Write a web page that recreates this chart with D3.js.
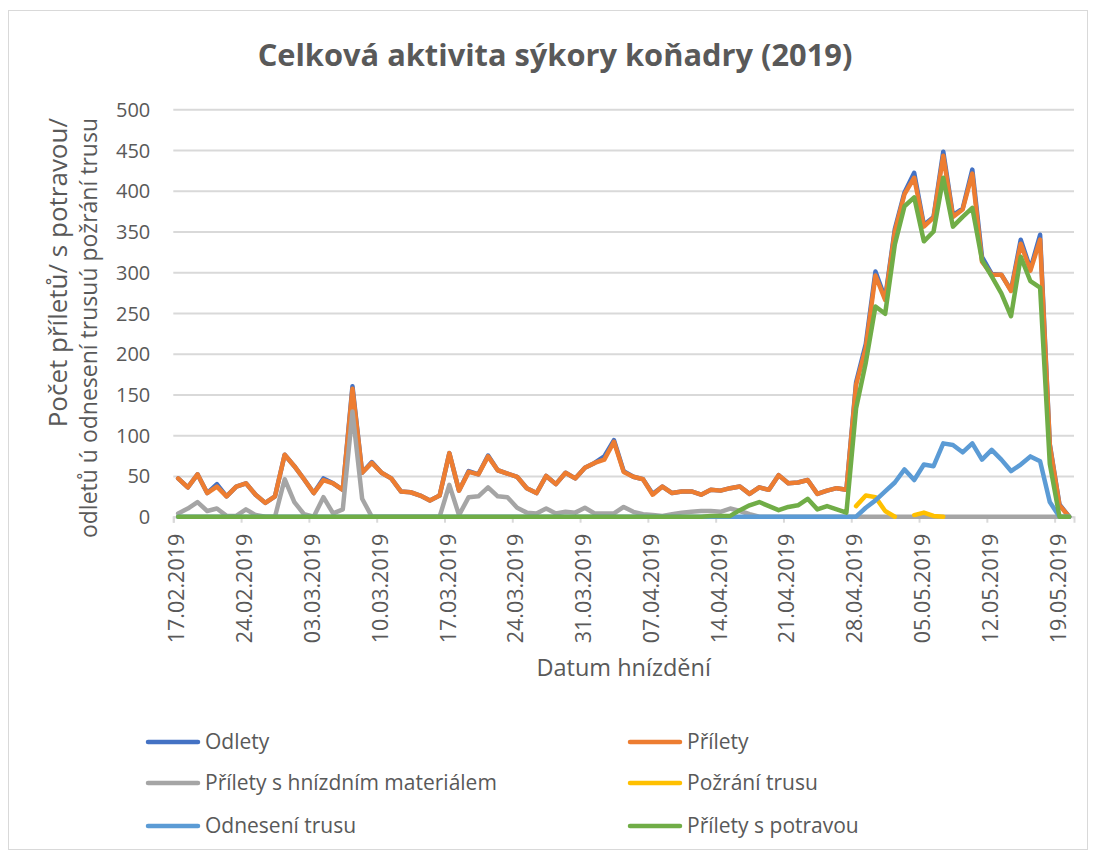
<!DOCTYPE html>
<html>
<head>
<meta charset="utf-8">
<script src="https://cdn.jsdelivr.net/npm/d3@7"></script>
<style>
  html, body { margin: 0; padding: 0; background: #fff; }
  svg { display: block; }
  text { font-family: "Open Sans", "Noto Sans", sans-serif; fill: #595959; }
</style>
</head>
<body>
<svg id="chart" width="1093" height="857"></svg>
<script>
// ---- Data ----
const startDate = "2019-02-17";
const endDate = "2019-05-20"; // last category (inclusive)
const tickLabels = ["17.02.2019","24.02.2019","03.03.2019","10.03.2019","17.03.2019","24.03.2019",
  "31.03.2019","07.04.2019","14.04.2019","21.04.2019","28.04.2019","05.05.2019","12.05.2019","19.05.2019"];
const yTicks = [0, 50, 100, 150, 200, 250, 300, 350, 400, 450, 500];

const odlety = [47,36,52,29,40,25,37,41,27,17,25,76,62,46,29,47,41,33,160,54,
  67,54,47,31,30,26,20,26,78,32,56,52,75,57,53,49,35,29,50,40,
  54,47,60,66,74,94,56,49,46,28,37,29,31,31,27,33,32,35,37,28,
  36,33,51,41,42,45,28,32,35,33,165,212,301,268,353,398,422,358,368,448,
  370,378,426,319,298,297,278,340,304,346,89,15,0];
const prilety = [47,36,52,29,37,25,37,41,27,17,25,76,62,46,29,45,41,33,157,54,
  66,54,47,31,30,26,20,26,78,32,55,52,74,57,53,49,35,29,50,40,
  54,47,60,66,70,92,55,49,46,27,37,29,31,31,27,33,32,35,37,28,
  36,33,51,41,42,45,28,32,35,33,162,207,296,266,350,396,416,356,367,443,
  368,377,421,313,297,297,277,335,302,340,88,14,0];
const material = [4,10,18,7,10,1,1,9,2,0,0,46,18,3,0,24,4,9,129,22,
  0,0,0,0,0,0,0,0,39,2,24,25,36,25,24,11,5,4,10,4,
  6,5,11,4,4,4,12,6,3,2,1,3,5,6,7,7,6,10,7,3,
  0,0,0,0,0,0,0,0,0,0,0,0,0,0,0,0,0,0,0,0,
  0,0,0,0,0,0,0,0,0,0,0,0,0];
const pozrani = [null,null,null,null,null,null,null,null,null,null,null,null,null,null,null,null,null,null,null,null,
  null,null,null,null,null,null,null,null,null,null,null,null,null,null,null,null,null,null,null,null,
  null,null,null,null,null,null,null,null,null,null,null,null,null,null,null,null,null,null,null,null,
  null,null,null,null,null,null,null,null,null,null,13,26,24,7,0,null,2,5,1,0,
  null,null,null,null,null,null,null,null,null,null,null,null,null];
const odneseni = [0,0,0,0,0,0,0,0,0,0,0,0,0,0,0,0,0,0,0,0,
  0,0,0,0,0,0,0,0,0,0,0,0,0,0,0,0,0,0,0,0,
  0,0,0,0,0,0,0,0,0,0,0,0,0,0,0,0,0,0,0,0,
  0,0,0,0,0,0,0,0,0,0,0,11,20,31,42,58,45,64,62,90,
  88,79,90,70,82,70,56,64,74,68,18,0,0];
const potrava = [0,0,0,0,0,0,0,0,0,0,0,0,0,0,0,0,0,0,0,0,
  0,0,0,0,0,0,0,0,0,0,0,0,0,0,0,0,0,0,0,0,
  0,0,0,0,0,0,0,0,0,0,0,0,0,0,0,1,1,1,8,14,
  18,13,8,12,14,22,9,13,9,5,133,189,258,249,334,381,392,338,350,416,
  356,368,379,315,295,274,246,319,289,281,65,0,0];

const seriesNames = ["Odlety","Přílety","Přílety s hnízdním materiálem","Požrání trusu","Odnesení trusu","Přílety s potravou"];
const seriesColors = ["#4472C4","#ED7D31","#A5A5A5","#FFC000","#5B9BD5","#70AD47"];
const seriesValues = [odlety, prilety, material, pozrani, odneseni, potrava];

// ---- Layout ----
const svg = d3.select("#chart");
const plot = { left: 173.3, right: 1074, top: 109.3, bottom: 516.7 };

const parseISO = d3.utcParse("%Y-%m-%d");
const parseTick = d3.utcParse("%d.%m.%Y");
const days = d3.utcDay.range(parseISO(startDate), d3.utcDay.offset(parseISO(endDate), 1));

const x = d3.scaleUtc()
  .domain([days[0], d3.utcDay.offset(days[days.length - 1], 1)])
  .range([plot.left, plot.right]);
const y = d3.scaleLinear().domain([0, 500]).range([plot.bottom, plot.top]);
const xc = d => x(d3.utcHour.offset(d, 12)); // point at slot centre

// chart border
svg.append("rect").attr("x", 8.5).attr("y", 10.5).attr("width", 1079).attr("height", 839)
  .attr("fill", "#fff").attr("stroke", "#d9d9d9").attr("stroke-width", 1);

// title
svg.append("text").attr("x", 555).attr("y", 66).attr("text-anchor", "middle")
  .style("font-size", "30.8px").style("font-weight", "bold")
  .text("Celková aktivita sýkory koňadry (2019)");

// gridlines
const yAxis = d3.axisLeft(y).tickValues(yTicks).tickSize(-(plot.right - plot.left)).tickPadding(23);
const gy = svg.append("g").attr("transform", `translate(${plot.left},0)`).call(yAxis);
gy.select(".domain").remove();
gy.selectAll(".tick line").attr("stroke", "#d9d9d9").attr("stroke-width", 2);
gy.selectAll(".tick text").style("font-size", "20px").attr("fill", "#595959").attr("dy", "0.35em");

// x axis ticks
const tickDates = tickLabels.map(parseTick);
const xAxis = d3.axisBottom(x).tickValues(tickDates).tickSize(6).tickFormat((d, i) => tickLabels[i]);
const gx = svg.append("g").attr("transform", `translate(0,${plot.bottom})`).call(xAxis);
gx.select(".domain").attr("stroke", "#d9d9d9").attr("stroke-width", 2);
gx.selectAll(".tick line").attr("stroke", "#d9d9d9").attr("stroke-width", 2);
gx.selectAll(".tick text")
  .style("font-size", "21.5px").attr("fill", "#595959")
  .attr("text-anchor", "end")
  .attr("transform", "rotate(-90)")
  .attr("x", -17).attr("y", 3).attr("dy", "0.35em");

// axis titles
svg.append("text").attr("x", (plot.left + plot.right) / 2).attr("y", 676)
  .attr("text-anchor", "middle").style("font-size", "23.5px").text("Datum hnízdění");
const yt = svg.append("text").attr("transform", "translate(0,118) rotate(-90)")
  .attr("text-anchor", "end");
yt.append("tspan").attr("x", 0).attr("y", 67).style("font-size", "26px").text("Počet příletů/ s potravou/");
yt.append("tspan").attr("x", 0).attr("y", 97).style("font-size", "23px").text("odletů ú odnesení trusuú požrání trusu");

// series lines
const line = d3.line()
  .defined(d => d.v != null)
  .x(d => xc(d.date))
  .y(d => y(d.v));
seriesValues.forEach((vals, s) => {
  const data = days.map((date, i) => ({ date, v: vals[i] }));
  svg.append("path").datum(data)
    .attr("d", line)
    .attr("fill", "none")
    .attr("stroke", seriesColors[s])
    .attr("stroke-width", 4.5)
    .attr("stroke-linejoin", "round")
    .attr("stroke-linecap", "round");
});

// legend
const legendPos = [[146, 742], [628, 742], [146, 783], [628, 783], [146, 826], [628, 826]];
seriesNames.forEach((name, i) => {
  const [lx, ly] = legendPos[i];
  svg.append("line").attr("x1", lx + 2).attr("x2", lx + 52).attr("y1", ly).attr("y2", ly)
    .attr("stroke", seriesColors[i]).attr("stroke-width", 4.5).attr("stroke-linecap", "round");
  svg.append("text").attr("x", lx + 59).attr("y", ly).attr("dy", "0.35em")
    .style("font-size", "21px").text(name);
});
</script>
</body>
</html>
